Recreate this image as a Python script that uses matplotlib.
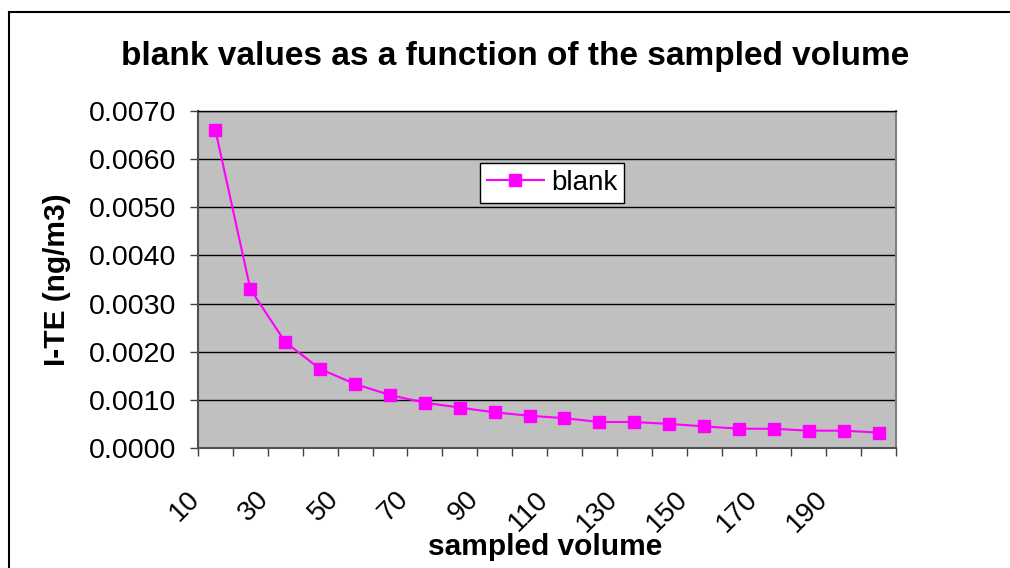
import matplotlib
matplotlib.use("Agg")
import matplotlib.pyplot as plt
from matplotlib.lines import Line2D
from matplotlib.transforms import ScaledTranslation

plt.rcParams['font.family'] = ['Liberation Sans', 'DejaVu Sans']

volumes = [10, 20, 30, 40, 50, 60, 70, 80, 90, 100,
           110, 120, 130, 140, 150, 160, 170, 180, 190, 200]
blank = [0.0066, 0.0033, 0.0022, 0.00164, 0.00133, 0.0011, 0.00094, 0.00084,
         0.00074, 0.00067, 0.00062, 0.00054, 0.00054, 0.00050, 0.00045,
         0.00040, 0.00040, 0.00036, 0.00036, 0.00032]
y_ticks = [0.0, 0.001, 0.002, 0.003, 0.004, 0.005, 0.006, 0.007]

W, H = 1010, 568
fig = plt.figure(figsize=(W / 100, H / 100), dpi=100)
fig.patch.set_facecolor('white')
L, R, T, B = 198, 896, 111, 448
ax = fig.add_axes([L / W, 1 - B / H, (R - L) / W, (B - T) / H])
ax.set_facecolor('#C0C0C0')

x = list(range(len(volumes)))
ax.plot(x, blank, color='#FF00FF', lw=1.5, marker='s', markersize=8.5,
        markeredgecolor='#FF00FF', label='blank', zorder=3)

ax.set_xlim(-0.5, len(volumes) - 0.5)
ax.set_ylim(0, 0.007)
ax.set_yticks(y_ticks)
ax.set_yticklabels([f"{v:.4f}" for v in y_ticks], fontsize=20.5)
ax.grid(axis='y', color='black', lw=1)
ax.set_axisbelow(True)

# category boundary tick marks
ax.set_xticks([i - 0.5 for i in range(len(volumes) + 1)], minor=True)
ax.tick_params(axis='x', which='minor', length=6, width=1, color='#404040', direction='out')
ax.set_xticks(x[::2])
ax.set_xticklabels([str(v) for v in volumes[::2]], rotation=45, ha='right',
                   va='center', rotation_mode='anchor', fontsize=20)
ax.tick_params(axis='x', which='major', length=0, pad=34)
offset = ScaledTranslation(-0.2, 0, fig.dpi_scale_trans)
for lbl in ax.get_xticklabels():
    lbl.set_transform(lbl.get_transform() + offset)
ax.tick_params(axis='y', length=6, width=1, color='#404040', pad=10)

for s in ['left', 'bottom']:
    ax.spines[s].set_color('#505050')
    ax.spines[s].set_linewidth(1.5)
ax.spines['right'].set_color('#808080')
ax.spines['right'].set_linewidth(1.5)
ax.spines['top'].set_color('black')
ax.spines['top'].set_linewidth(1)

ax.set_xlabel('sampled volume', fontsize=21.5, fontweight='bold')
ax.xaxis.set_label_coords((545 - L) / (R - L), (B - 533) / (B - T))
ax.set_ylabel('I-TE (ng/m3)', fontsize=21.5, fontweight='bold')
ax.yaxis.set_label_coords((71 - L) / (R - L), 0.5)
fig.text(515 / W, 1 - 56 / H, 'blank values as a function of the sampled volume',
         ha='center', va='center', fontsize=24, fontweight='bold')

leg = ax.legend(loc='upper left', bbox_to_anchor=((480 - L) / (R - L), (B - 163) / (B - T)),
                fontsize=20, frameon=True, fancybox=False, handlelength=2.05,
                borderpad=0.25, handletextpad=0.25, borderaxespad=0)
leg.get_frame().set_edgecolor('black')
leg.get_frame().set_linewidth(1)
leg.get_frame().set_facecolor('white')
leg.get_frame().set_alpha(1)

# outer chart border (left and top visible)
fig.add_artist(Line2D([9 / W, 9 / W], [0, 1 - 12 / H], transform=fig.transFigure, color='black', lw=1.5))
fig.add_artist(Line2D([9 / W, 1], [1 - 12 / H, 1 - 12 / H], transform=fig.transFigure, color='black', lw=1.5))

fig.savefig('out.png', dpi=100)
